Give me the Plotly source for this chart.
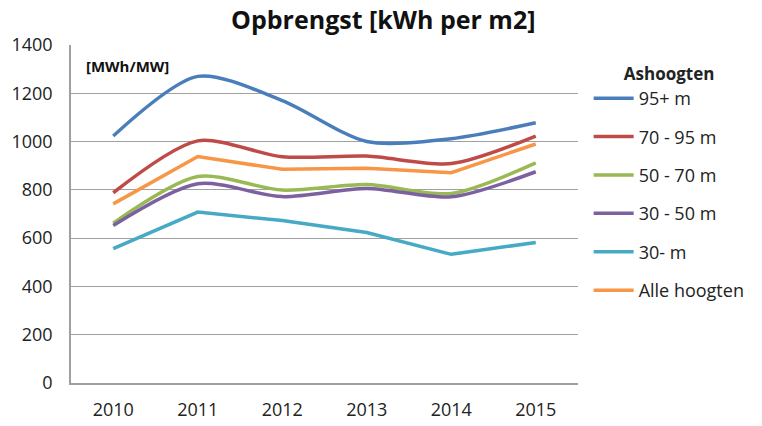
import plotly.graph_objects as go

years = ["2010", "2011", "2012", "2013", "2014", "2015"]
series_names = ["95+ m", "70 - 95 m", "50 - 70 m", "30 - 50 m", "30- m", "Alle hoogten"]
v_95plus = [1023, 1270, 1170, 1000, 1012, 1078]
v_70_95 = [788, 1003, 937, 940, 909, 1023]
v_50_70 = [662, 855, 799, 822, 785, 912]
v_30_50 = [652, 825, 772, 806, 771, 875]
v_30min = [557, 708, 673, 623, 533, 582]
v_alle = [742, 938, 885, 890, 871, 990]
colors = ["#4A7EBB", "#BE4B48", "#98B954", "#7D60A0", "#46AAC5", "#F79646"]
shapes = ["spline", "spline", "spline", "spline", "linear", "linear"]

values = [v_95plus, v_70_95, v_50_70, v_30_50, v_30min, v_alle]

fig = go.Figure()
for i, (name, vals) in enumerate(zip(series_names, values)):
    fig.add_trace(go.Scatter(
        x=years, y=vals, name=name, mode="lines",
        line=dict(color=colors[i], width=3.5, shape=shapes[i], smoothing=0.8),
        legendgroup=f"g{i}",
    ))

font_family = "Open Sans, Noto Sans, sans-serif"

fig.update_layout(
    width=762, height=426,
    margin=dict(l=71, r=165, t=45, b=43),
    paper_bgcolor="white", plot_bgcolor="white",
    font=dict(family=font_family, color="#222222", size=18),
    title=dict(text="<b>Opbrengst [kWh per m2]</b>", x=0.503, xanchor="center",
               y=0.952, yanchor="middle", font=dict(size=25, color="#111111")),
    xaxis=dict(type="category", range=[-0.5, 5.5], showgrid=False,
               showline=True, linecolor="#A0A0A0", linewidth=1.5, automargin=False,
               ticks="", tickfont=dict(size=18, color="#222222"), ticklabelstandoff=10),
    yaxis=dict(range=[0, 1400], dtick=200, showgrid=True, gridcolor="#A0A0A0",
               gridwidth=1, showline=True, linecolor="#A0A0A0", linewidth=1.5,
               automargin=False,
               zeroline=False, ticks="", tickfont=dict(size=18, color="#222222"),
               ticklabelstandoff=13),
    legend=dict(x=1.021, xanchor="left", y=0.962, yanchor="top",
                title=dict(text="<b>Ashoogten</b>", side="top center", font=dict(size=17)),
                font=dict(size=18, color="#222222"), tracegroupgap=12,
                itemwidth=40, bgcolor="rgba(0,0,0,0)"),
    annotations=[dict(text="<b>[MWh/MW]</b>", xref="paper", yref="paper",
                      x=0.025, y=0.938, xanchor="left", yanchor="middle",
                      showarrow=False, font=dict(size=15, color="#111111"))],
)

fig.write_html("out.html", post_script="document.body.style.margin='0';",
               config={"displayModeBar": False})
